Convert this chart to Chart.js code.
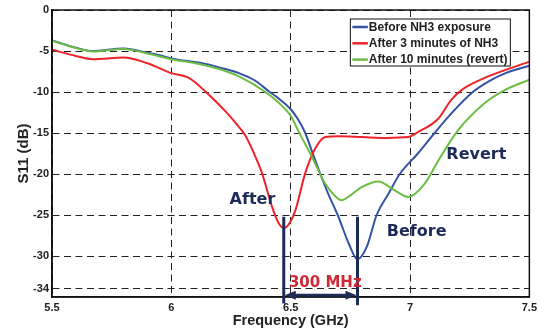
<!DOCTYPE html>
<html>
<head>
<meta charset="utf-8">
<script src="https://cdn.jsdelivr.net/npm/chart.js@4/dist/chart.umd.min.js"></script>
<style>
  html, body { margin: 0; padding: 0; background: #fff; }
</style>
</head>
<body>
<canvas id="s11Chart" width="541" height="331"></canvas>
<script>
const labels = ['Before NH3 exposure', 'After 3 minutes of NH3', 'After 10 minutes (revert)'];

const freqBefore = [5.5, 5.6, 5.67, 5.8, 5.9, 5.95, 6.0, 6.13, 6.2, 6.283, 6.35, 6.408, 6.45, 6.5, 6.53, 6.561, 6.59, 6.624, 6.66, 6.697, 6.745, 6.78, 6.82, 6.86, 6.91, 6.957, 7.033, 7.103, 7.18, 7.263, 7.33, 7.4, 7.5];
const sBefore = [-3.7, -4.6, -5.0, -4.7, -5.2, -5.5, -5.9, -6.5, -7.0, -7.7, -8.6, -9.9, -10.8, -12.1, -13.3, -15.0, -17.3, -20.0, -22.6, -25.0, -28.6, -30.4, -28.8, -25.0, -22.4, -20.0, -17.5, -15.0, -12.4, -10.0, -8.7, -7.7, -6.8];

const freqAfter = [5.5, 5.6, 5.67, 5.8, 5.9, 6.0, 6.075, 6.145, 6.228, 6.27, 6.31, 6.345, 6.38, 6.422, 6.45, 6.471, 6.495, 6.52, 6.561, 6.603, 6.645, 6.7, 6.8, 6.9, 6.992, 7.033, 7.117, 7.172, 7.214, 7.311, 7.4, 7.5];
const sAfter = [-4.85, -5.6, -6.0, -5.8, -6.5, -7.7, -8.3, -10.0, -12.4, -13.8, -15.3, -17.4, -19.9, -24.0, -26.0, -26.6, -26.0, -24.4, -19.9, -16.9, -15.5, -15.4, -15.5, -15.6, -15.5, -14.9, -13.3, -11.0, -9.8, -8.3, -7.3, -6.3];

const freqRevert = [5.5, 5.6, 5.67, 5.8, 5.9, 6.0, 6.1, 6.2, 6.283, 6.394, 6.45, 6.5, 6.533, 6.589, 6.645, 6.69, 6.714, 6.75, 6.797, 6.867, 6.936, 6.992, 7.061, 7.12, 7.2, 7.311, 7.395, 7.5];
const sRevert = [-3.75, -4.65, -5.05, -4.75, -5.3, -6.0, -6.5, -7.2, -8.1, -10.0, -11.3, -12.9, -14.8, -17.9, -21.2, -22.8, -23.2, -22.6, -21.6, -20.9, -22.0, -22.8, -21.2, -18.3, -14.7, -11.4, -9.8, -8.5];

const xTicks = [5.5, 6, 6.5, 7, 7.5];
const yTicks = [0, -5, -10, -15, -20, -25, -30, -34];

const colors = ['#3552a6', '#ee2229', '#6cbd45'];
const navy = '#1c2b57';

const toPoints = (fs, vs) => fs.map((f, i) => ({ x: f, y: vs[i] }));

// frequency of each curve's deepest dip
const dipFreq = (fs, vs) => fs[vs.indexOf(Math.min(...vs))];
const fDipBefore = dipFreq(freqBefore, sBefore);
const fDipAfter = dipFreq(freqAfter, sAfter);

const frameAndNotes = {
  id: 'frameAndNotes',
  afterDraw(chart) {
    const { ctx, chartArea: a } = chart;
    const xs = chart.scales.x, ys = chart.scales.y;
    ctx.save();

    // box round the plot
    ctx.strokeStyle = '#111';
    ctx.lineWidth = 1.5;
    ctx.setLineDash([]);
    ctx.strokeRect(a.left, a.top, a.right - a.left, a.bottom - a.top);

    // markers at the two dips
    ctx.strokeStyle = navy;
    ctx.fillStyle = navy;
    ctx.lineWidth = 3;
    const xa = xs.getPixelForValue(fDipAfter);
    const xb = xs.getPixelForValue(fDipBefore);
    ctx.beginPath();
    ctx.moveTo(xa, ys.getPixelForValue(-25.2));
    ctx.lineTo(xa, ys.getPixelForValue(-35.8));
    ctx.moveTo(xb, ys.getPixelForValue(-25.2));
    ctx.lineTo(xb, ys.getPixelForValue(-36.0));
    ctx.stroke();

    // double arrow between them
    const ya = ys.getPixelForValue(-34.8);
    ctx.lineWidth = 3;
    ctx.beginPath();
    ctx.moveTo(xa + 8, ya);
    ctx.lineTo(xb - 8, ya);
    ctx.stroke();
    ctx.beginPath();
    ctx.moveTo(xa + 1, ya); ctx.lineTo(xa + 12, ya - 4.5); ctx.lineTo(xa + 12, ya + 4.5); ctx.closePath();
    ctx.moveTo(xb - 1, ya); ctx.lineTo(xb - 12, ya - 4.5); ctx.lineTo(xb - 12, ya + 4.5); ctx.closePath();
    ctx.fill();

    // text notes
    ctx.textAlign = 'center';
    ctx.textBaseline = 'middle';
    ctx.font = 'bold 16px "DejaVu Sans"';
    ctx.fillStyle = navy;
    ctx.fillText('After', xs.getPixelForValue(6.34), ys.getPixelForValue(-23.1));
    ctx.fillText('Before', xs.getPixelForValue(7.028), ys.getPixelForValue(-27.1));
    ctx.fillText('Revert', xs.getPixelForValue(7.278), ys.getPixelForValue(-17.7));
    ctx.font = 'bold 15px "DejaVu Sans"';
    ctx.fillStyle = '#cc2b36';
    ctx.fillText('300 MHz', xs.getPixelForValue(6.645), ys.getPixelForValue(-33.3));

    // legend box
    const bw = 160, bh = 47;
    const bx = a.right - 19.5 - bw, by = a.top + 8.5;
    ctx.fillStyle = '#fff';
    ctx.fillRect(bx, by, bw, bh);
    ctx.strokeStyle = '#111';
    ctx.lineWidth = 1;
    ctx.strokeRect(bx + 0.5, by + 0.5, bw, bh);
    ctx.font = 'bold 12px "Liberation Sans", Arial';
    ctx.textAlign = 'left';
    chart.data.datasets.forEach((ds, i) => {
      const yy = by + 8.5 + i * 16.3;
      ctx.strokeStyle = ds.borderColor;
      ctx.lineWidth = 2.5;
      ctx.beginPath();
      ctx.moveTo(bx + 2.5, yy);
      ctx.lineTo(bx + 18, yy);
      ctx.stroke();
      ctx.fillStyle = '#222';
      ctx.fillText(ds.label, bx + 19, yy + 0.5);
    });
    ctx.restore();
  }
};

const ctx = document.getElementById('s11Chart').getContext('2d');

const datasets = [
  { label: labels[0], data: toPoints(freqBefore, sBefore), borderColor: colors[0], order: 2 },
  { label: labels[1], data: toPoints(freqAfter, sAfter), borderColor: colors[1], order: 1 },
  { label: labels[2], data: toPoints(freqRevert, sRevert), borderColor: colors[2], order: 0 }
].map(d => Object.assign(d, {
  borderWidth: 2,
  pointRadius: 0,
  fill: false,
  cubicInterpolationMode: 'monotone'
}));

const tickFont = { family: '"Liberation Sans", Arial', weight: 'bold', size: 11 };
const gridOpts = { color: '#222', lineWidth: 1, drawTicks: false };

const config = {
  type: 'line',
  data: { datasets: datasets },
  options: {
    responsive: false,
    animation: false,
    layout: { padding: { top: 10, right: 9, left: 0, bottom: 0 } },
    plugins: { legend: { display: false }, tooltip: { enabled: false } },
    scales: {
      x: {
        type: 'linear',
        min: 5.5,
        max: 7.5,
        afterBuildTicks: s => { s.ticks = xTicks.map(v => ({ value: v })); },
        afterFit: s => { s.height = 34; },
        ticks: { font: tickFont, color: '#222', padding: 4, maxRotation: 0, callback: v => String(v) },
        grid: gridOpts,
        border: { display: true, color: '#111', width: 1.5, dash: [7, 4.5] },
        title: {
          display: true, text: 'Frequency (GHz)', color: '#222',
          font: { family: '"Liberation Sans", Arial', weight: 'bold', size: 14.5 },
          padding: { top: 0, bottom: 1 }
        }
      },
      y: {
        type: 'linear',
        min: -35,
        max: 0,
        afterBuildTicks: s => { s.ticks = yTicks.map(v => ({ value: v })); },
        afterFit: s => { s.width = 52; },
        ticks: { font: tickFont, color: '#222', padding: 3, callback: v => String(v) },
        grid: gridOpts,
        border: { display: true, color: '#111', width: 1.5, dash: [7, 4.5] },
        title: {
          display: true, text: 'S11 (dB)', color: '#222',
          font: { family: '"Liberation Sans", Arial', weight: 'bold', size: 15 },
          padding: { top: 15, bottom: 0 }
        }
      }
    }
  },
  plugins: [frameAndNotes]
};

const s11Chart = new Chart(ctx, config);
</script>
</body>
</html>
